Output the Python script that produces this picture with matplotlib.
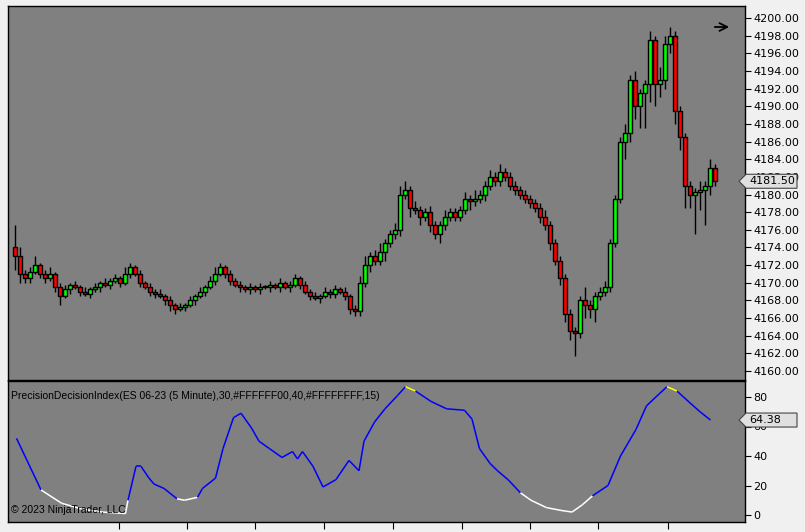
import matplotlib
matplotlib.use("Agg")
import matplotlib.pyplot as plt
from matplotlib.collections import LineCollection
from matplotlib.patches import Polygon
import numpy as np

closes = [4173, 4171, 4170.5, 4171.25, 4172, 4171, 4170.5, 4171, 4169.5, 4168.5,
          4169.25, 4169.75, 4169.5, 4169, 4168.75, 4169.25, 4169.5, 4170, 4169.75, 4170.25,
          4170.5, 4170, 4171, 4171.75, 4171, 4170, 4169.5, 4169, 4168.75, 4168.5,
          4168, 4167.5, 4167, 4167.25, 4167.5, 4168, 4168.5, 4169, 4169.5, 4170.25,
          4171, 4171.75, 4171, 4170.25, 4169.75, 4169.5, 4169.25, 4169.5, 4169.25, 4169.5,
          4169.5, 4169.75, 4169.5, 4170, 4169.5, 4169.75, 4170.5, 4169.75, 4169, 4168.5,
          4168.25, 4168.5, 4169, 4168.75, 4169.25, 4169, 4168.5, 4167, 4166.75, 4170,
          4172, 4173, 4172.5, 4173.5, 4174.5, 4175.5, 4176, 4180, 4180.5, 4178.5,
          4178.25, 4177.5, 4178, 4176.5, 4175.5, 4176.5, 4177.5, 4178, 4177.5, 4178.25,
          4179.5, 4179.25, 4179.5, 4180, 4181, 4182, 4181.5, 4182.5, 4182, 4181,
          4180.5, 4180, 4179.5, 4179, 4178.5, 4177.5, 4176.5, 4174.5, 4172.5, 4170.5,
          4166.5, 4164.5, 4164.25, 4168, 4167.5, 4167, 4168.5, 4169, 4169.5, 4174.5,
          4179.5, 4186, 4187, 4193, 4190, 4191.5, 4192.5, 4197.5, 4192.5, 4193,
          4197, 4198, 4189.5, 4186.5, 4181, 4180, 4180.25, 4180.5, 4181, 4183, 4181.5]
first_open = 4174.0
up_ext = [2.5, 1, 0.5, 0.5, 1, 0.25, 0.5, 0.75, 0.25, 0.5,
          0.5, 0.25, 0.5, 0.25, 0.5, 0.25, 0.5, 0.25, 0.5, 0.25,
          0.5, 0.25, 0.75, 0.5, 0.25, 0.5, 0.25, 0.5, 0.25, 0.5,
          0.25, 0.5, 0.25, 0.5, 0.25, 0.5, 0.25, 0.5, 0.25, 0.5,
          0.75, 0.5, 0.25, 0.5, 0.25, 0.5, 0.25, 0.5, 0.25, 0.5,
          0.25, 0.5, 0.25, 0.5, 0.25, 0.5, 0.5, 0.25, 0.5, 0.25,
          0.5, 0.25, 0.5, 0.25, 0.5, 0.25, 0.5, 0.25, 0.5, 0.75,
          1, 0.5, 0.75, 1, 0.5, 0.5, 0.75, 1, 1, 0.5,
          0.75, 0.5, 0.5, 0.75, 0.5, 0.5, 0.75, 0.5, 0.5, 0.5,
          0.75, 0.5, 1, 0.5, 0.5, 0.75, 0.5, 1, 0.5, 0.5,
          0.5, 0.5, 0.5, 0.5, 0.5, 0.5, 0.75, 0.5, 0.5, 0.5,
          0.5, 0.5, 0.5, 0.5, 1.5, 0.5, 0.5, 0.5, 0.75, 0.5,
          0.5, 0.5, 1, 0.5, 1, 0.5, 0.5, 1, 0.5, 1.5,
          1, 1, 0.5, 0.5, 0.5, 0.5, 0.5, 1, 0.5, 1, 0.5]
dn_ext = [1.5, 1, 0.5, 0.5, 0.25, 0.5, 0.5, 0.25, 0.5, 1,
          0.25, 0.5, 0.25, 0.5, 0.25, 0.5, 0.25, 0.5, 0.25, 0.5,
          0.25, 0.5, 0.25, 0.5, 0.25, 0.5, 0.25, 0.5, 0.5, 0.25,
          0.5, 0.75, 0.5, 0.25, 0.5, 0.25, 0.5, 0.25, 0.5, 0.25,
          0.5, 0.25, 0.5, 0.5, 0.25, 0.5, 0.25, 0.5, 0.25, 0.5,
          0.25, 0.5, 0.25, 0.5, 0.25, 0.5, 0.25, 0.5, 0.25, 0.5,
          0.25, 0.5, 0.25, 0.5, 0.5, 0.25, 0.5, 0.5, 0.5, 0.5,
          0.5, 0.75, 0.5, 0.5, 1, 0.5, 0.5, 0.75, 0.5, 1,
          0.5, 1, 0.5, 0.75, 0.5, 1, 0.5, 0.5, 0.5, 0.5,
          0.5, 1, 0.5, 0.5, 0.75, 0.5, 0.5, 0.5, 0.5, 0.5,
          0.5, 0.5, 0.5, 0.5, 0.5, 0.75, 0.5, 0.75, 0.5, 0.75,
          1, 1, 2.5, 0.5, 1.5, 1, 1.5, 0.5, 0.5, 0.5,
          0.5, 0.5, 2, 1, 1.5, 2.5, 4, 2, 2.5, 1.5,
          1, 1, 1.5, 1.5, 2.5, 1.5, 4.5, 2, 4, 1, 0.5]

osc_pos = [0.3, 5.2, 9.3, 13.4, 17.5, 22.1, 22.6, 24.2, 25.2, 26.8, 27.8, 29.8, 32.4, 33.9,
           36.5, 37.5, 40.1, 41.6, 43.7, 45.2, 47.3, 48.8, 50.9, 53.4, 55.5, 56.5, 57.5,
           59.6, 61.6, 64.2, 66.8, 68.8, 69.8, 71.9, 74.0, 76.5, 78.1, 80.1, 83.2, 86.3,
           89.9, 91.4, 92.9, 95.0, 96.5, 98.6, 101.1, 103.2, 106.3, 109.4, 111.4, 113.5,
           115.5, 118.6, 121.1, 124.2, 126.3, 128.8, 130.4, 132.4, 135.0, 137.0, 139.1]
osc_vals = [52, 17, 8, 4, 2, 1, 10, 33, 33, 25, 21, 18, 11, 10,
            12, 18, 25, 45, 66, 69, 59, 50, 45, 39, 43, 38, 43,
            33, 19, 24, 37, 30, 50, 63, 72, 81, 87, 84, 77, 72,
            71, 65, 45, 35, 30, 24, 15, 10, 5, 3, 2, 7,
            13, 20, 40, 58, 74, 82, 87, 84, 76, 70, 64.38]
tick_pos = [20.8, 34.4, 48, 61.8, 75.6, 89.4, 103, 116.6, 130.6]

W, H = 805, 532
fig = plt.figure(figsize=(W/100, H/100), dpi=100, facecolor="#f0f0f0")
def rect(l, t, r, b):
    return [l/W, 1-b/H, (r-l)/W, (b-t)/H]
ax = fig.add_axes(rect(8, 6, 745, 380), facecolor="#808080")
ax2 = fig.add_axes(rect(8, 381, 745, 522), facecolor="#808080", sharex=ax)

opens = [first_open] + closes[:-1]
n = len(closes)
for i in range(n):
    o, c = opens[i], closes[i]
    hi = max(o, c) + up_ext[i]
    lo = min(o, c) - dn_ext[i]
    ax.vlines(i, lo, hi, color="black", lw=1, zorder=1)
    col = "#00ff00" if c >= o else "#ff0000"
    bot = min(o, c); h = max(abs(c - o), 0.12)
    ax.bar(i, h, bottom=bot, width=0.65, color=col, edgecolor="black", lw=1, zorder=2)

x0 = -(15-8)/5; x1 = (745-15)/5
ax.set_xlim(x0, x1)
ax.set_ylim(4200-362/8.825, 4200+12/8.825)
ax.yaxis.tick_right()
ax.set_yticks(np.arange(4160, 4201, 2))
ax.set_yticklabels([f"{v:.2f}" for v in np.arange(4160, 4201, 2)])
ax.tick_params(axis="y", direction="out", length=4, labelsize=8, pad=2, colors="black")
ax.tick_params(axis="x", length=0, labelbottom=False)

pts = np.column_stack([osc_pos, osc_vals])
segs = np.stack([pts[:-1], pts[1:]], axis=1)
cols = []
for a, b in zip(osc_vals[:-1], osc_vals[1:]):
    m = (a + b) / 2
    cols.append("#ffff00" if m > 85 else ("white" if m < 14 else "#0000ff"))
ax2.add_collection(LineCollection(segs, colors=cols, lw=1.1))
ax2.set_ylim(80-16/1.475, -(522-515)/1.475)
ax2.set_ylim(-(522-515)/1.475, 80+16/1.475)
ax2.yaxis.tick_right()
ax2.set_yticks([0, 20, 40, 60, 80])
ax2.tick_params(axis="y", direction="out", length=4, labelsize=8, pad=2)
ax2.set_xticks(tick_pos)
ax2.tick_params(axis="x", direction="out", length=5, labelbottom=False)

for a in (ax, ax2):
    for s in a.spines.values():
        s.set_color("black"); s.set_linewidth(1)

ax2.text(0.004, 0.93, "PrecisionDecisionIndex(ES 06-23 (5 Minute),30,#FFFFFF00,40,#FFFFFFFF,15)",
         transform=ax2.transAxes, fontsize=7.5, va="top", ha="left", family="Liberation Sans")
ax2.text(0.004, 0.05, "© 2023 NinjaTrader, LLC", transform=ax2.transAxes, fontsize=7.5,
         va="bottom", ha="left", family="Liberation Sans")

def tag(axis, yval, label):
    trans = axis.get_yaxis_transform()
    t = axis.transData
    yp = axis.transData.transform((0, yval))[1]
    xl = 739; xr = 797
    ypx = yp
    h = 7
    poly = Polygon([(xl, ypx), (xl+7, ypx+h), (xr, ypx+h), (xr, ypx-h), (xl+7, ypx-h)],
                   closed=True, transform=None, facecolor="#e0e0e0", edgecolor="#444444",
                   lw=0.8, zorder=10, clip_on=False)
    fig.patches.append(poly)
    fig.text((xl+10)/W, ypx/H, label, fontsize=8, va="center", ha="left", zorder=11)

tag(ax, closes[-1], f"{closes[-1]:.2f}")
tag(ax2, osc_vals[-1], f"{osc_vals[-1]:.2f}")
ax.annotate("", xy=(732/W, 1-27/H), xytext=(712/W, 1-27/H), xycoords="figure fraction",
            arrowprops=dict(arrowstyle="->", color="black", lw=1.3, mutation_scale=14))

fig.savefig("out.png", dpi=100, facecolor=fig.get_facecolor())
